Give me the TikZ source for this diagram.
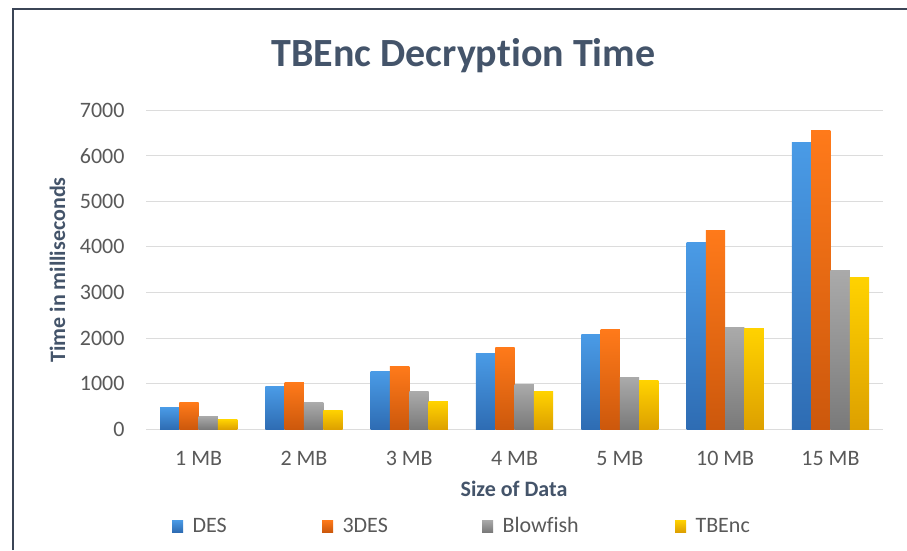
\documentclass[tikz,border=0pt]{standalone}
\usepackage{fontspec}
\setmainfont{Carlito}[Ligatures=NoCommon]
\usetikzlibrary{calc}
\definecolor{frameclr}{HTML}{3B4556}
\definecolor{titleclr}{HTML}{44546A}
\definecolor{tickclr}{HTML}{595959}
\definecolor{gridclr}{HTML}{DCDCDC}
\definecolor{desTop}{HTML}{4A9BE6}
\definecolor{desBot}{HTML}{2E6CB3}
\definecolor{tdesTop}{HTML}{FF7A1A}
\definecolor{tdesBot}{HTML}{CC580C}
\definecolor{bfTop}{HTML}{AAAAAA}
\definecolor{bfBot}{HTML}{7A7A7A}
\definecolor{tbTop}{HTML}{FFD200}
\definecolor{tbBot}{HTML}{DDA000}
\tikzset{
	ticklabel/.style={anchor=east, text=tickclr, font=\fontsize{22}{22}\selectfont},
	catlabel/.style={anchor=base, text=tickclr, font=\fontsize{22}{22}\selectfont},
	legendtext/.style={anchor=base west, text=tickclr, font=\fontsize{22}{22}\selectfont},
	axistitle/.style={text=titleclr, font=\bfseries\fontsize{22}{22}\selectfont},
	charttitle/.style={anchor=base, text=titleclr, font=\bfseries\fontsize{40}{40}\selectfont},
	gridline/.style={draw=gridclr, line width=1pt},
	desbar/.style={top color=desTop, bottom color=desBot},
	tdesbar/.style={top color=tdesTop, bottom color=tdesBot},
	bfbar/.style={top color=bfTop, bottom color=bfBot},
	tbbar/.style={top color=tbTop, bottom color=tbBot}
}
% bar of width 19.3 standing on the zero line
\def\chartbar[#1](#2)(#3){\shade[#1] ({#2},120.7) rectangle ({#2+19.3},{120.7+#3*0.0456});}

\begin{document}
\begin{tikzpicture}[x=1pt, y=1pt]
		%%%%% START %%%%%
		\useasboundingbox[fill=white] (0, 0) rectangle (907, 550);
		
		\draw[line width=2pt, color=frameclr] (12.5, 0) -- (12.5, 540.5) -- (907, 540.5);
		
		\node[charttitle] (title) at (463.5, 483) {TBEnc Decryption Time};
		
		\foreach \v [count=\k from 0] in {0,1000,...,7000}{
			\draw[gridline] (146, {120.7+\v*0.0456}) -- (883, {120.7+\v*0.0456});
			\node[ticklabel] (tick\k) at (128, {120.7+\v*0.0456}) {\v};
		}
		
		\foreach \cat/\vdes/\vtdes/\vbf/\vtb [count=\i from 0] in {1 MB/480/580/290/210, 2 MB/930/1030/580/420, 3 MB/1270/1380/820/600, 4 MB/1670/1800/990/820, 5 MB/2070/2190/1140/1060, 10 MB/4100/4370/2230/2200, 15 MB/6300/6560/3490/3330}{
			\pgfmathsetmacro\cx{146+105.3*(\i+0.5)}
			\chartbar[desbar](\cx-38.6)(\vdes)
			\chartbar[tdesbar](\cx-19.3)(\vtdes)
			\chartbar[bfbar](\cx)(\vbf)
			\chartbar[tbbar](\cx+19.3)(\vtb)
			\node[catlabel] (cat\i) at (\cx, 84.5) {\cat};
		}
		
		\node[axistitle, anchor=base] (xtitle) at (514, 54) {Size of Data};
		\node[axistitle, rotate=90] (ytitle) at (57.5, 280) {Time in milliseconds};
		
		% legend
		\shade[desbar] (172, 18) rectangle (183, 30);
		\node[legendtext] (leg1) at (189, 18) {DES};
		\shade[tdesbar] (322, 18) rectangle (333, 30);
		\node[legendtext] (leg2) at (339, 18) {3DES};
		\shade[bfbar] (482, 18) rectangle (493, 30);
		\node[legendtext] (leg3) at (499, 18) {Blowfish};
		\shade[tbbar] (675, 18) rectangle (686, 30);
		\node[legendtext] (leg4) at (692, 18) {TBEnc};
		%%%%% END %%%%%
\end{tikzpicture}
\end{document}
